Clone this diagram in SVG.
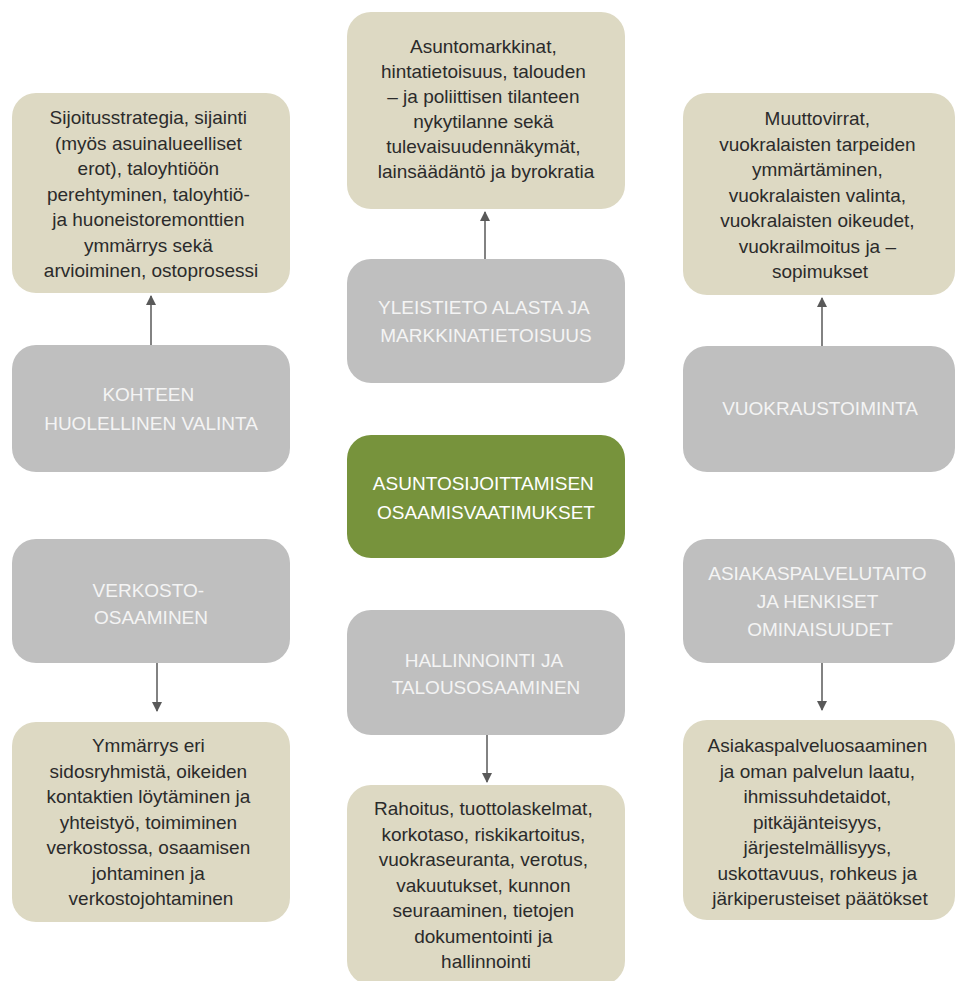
<svg xmlns="http://www.w3.org/2000/svg" width="955" height="981" viewBox="0 0 955 981">
<defs>
<style>
.tan{fill:#DDD9C3;}
.gray{fill:#BFBFBF;}
.green{fill:#77933C;}
.tt{font-family:"Liberation Sans",Arial,sans-serif;font-size:19px;fill:#2B2B2B;text-anchor:middle;}
.gt{font-family:"Liberation Sans",Arial,sans-serif;font-size:19px;fill:#F4F4F4;text-anchor:middle;}
.conn{stroke:#595959;stroke-width:1.5;fill:none;marker-end:url(#ah);}
</style>
<marker id="ah" markerWidth="10" markerHeight="10" refX="9" refY="5" orient="auto" markerUnits="userSpaceOnUse">
<path d="M0,0 L10,5 L0,10 Z" fill="#595959"/>
</marker>
</defs>
<rect width="955" height="981" fill="#FFFFFF"/>

<g id="connectors">
<line class="conn" x1="151" y1="345" x2="151" y2="296"/>
<line class="conn" x1="485" y1="259" x2="485" y2="212"/>
<line class="conn" x1="822" y1="346" x2="822" y2="298"/>
<line class="conn" x1="157" y1="663" x2="157" y2="711"/>
<line class="conn" x1="487" y1="735" x2="487" y2="782"/>
<line class="conn" x1="822" y1="663" x2="822" y2="710"/>
</g>

<g id="n-sijoitus">
<rect class="tan" x="12" y="93" width="278" height="200" rx="24"/>
<text class="tt">
<tspan x="151" y="124">Sijoitusstrategia, sijainti</tspan>
<tspan x="151" y="149.5">(myös asuinalueelliset</tspan>
<tspan x="151" y="175">erot), taloyhtiöön</tspan>
<tspan x="151" y="200.5">perehtyminen,  taloyhtiö-</tspan>
<tspan x="151" y="226">ja huoneistoremonttien</tspan>
<tspan x="151" y="251.5">ymmärrys sekä</tspan>
<tspan x="151" y="277">arvioiminen, ostoprosessi</tspan>
</text>
</g>

<g id="n-asunto">
<rect class="tan" x="347" y="12" width="278" height="197" rx="24"/>
<text class="tt">
<tspan x="486" y="53">Asuntomarkkinat,</tspan>
<tspan x="486" y="78">hintatietoisuus, talouden</tspan>
<tspan x="486" y="103">– ja poliittisen tilanteen</tspan>
<tspan x="486" y="128">nykytilanne sekä</tspan>
<tspan x="486" y="153">tulevaisuudennäkymät,</tspan>
<tspan x="486" y="178">lainsäädäntö ja byrokratia</tspan>
</text>
</g>

<g id="n-muutto">
<rect class="tan" x="683" y="93" width="272" height="202" rx="24"/>
<text class="tt">
<tspan x="820" y="125">Muuttovirrat,</tspan>
<tspan x="820" y="150.5">vuokralaisten tarpeiden</tspan>
<tspan x="820" y="176">ymmärtäminen,</tspan>
<tspan x="820" y="201.5">vuokralaisten valinta,</tspan>
<tspan x="820" y="227">vuokralaisten oikeudet,</tspan>
<tspan x="820" y="252.5">vuokrailmoitus ja –</tspan>
<tspan x="820" y="278">sopimukset</tspan>
</text>
</g>

<g id="n-kohteen">
<rect class="gray" x="12" y="345" width="278" height="127" rx="24"/>
<text class="gt">
<tspan x="151" y="401">KOHTEEN</tspan>
<tspan x="151" y="430">HUOLELLINEN VALINTA</tspan>
</text>
</g>

<g id="n-yleistieto">
<rect class="gray" x="347" y="259" width="278" height="124" rx="24"/>
<text class="gt">
<tspan x="486" y="314">YLEISTIETO ALASTA JA</tspan>
<tspan x="486" y="342">MARKKINATIETOISUUS</tspan>
</text>
</g>

<g id="n-vuokraus">
<rect class="gray" x="683" y="346" width="272" height="126" rx="24"/>
<text class="gt">
<tspan x="820" y="415">VUOKRAUSTOIMINTA</tspan>
</text>
</g>

<g id="n-center">
<rect class="green" x="347" y="435" width="278" height="123" rx="24"/>
<text class="gt" style="fill:#FFFFFF">
<tspan x="486" y="490">ASUNTOSIJOITTAMISEN</tspan>
<tspan x="486" y="519">OSAAMISVAATIMUKSET</tspan>
</text>
</g>

<g id="n-verkosto">
<rect class="gray" x="12" y="539" width="278" height="124" rx="24"/>
<text class="gt">
<tspan x="151" y="597">VERKOSTO-</tspan>
<tspan x="151" y="624">OSAAMINEN</tspan>
</text>
</g>

<g id="n-hallinnointi">
<rect class="gray" x="347" y="610" width="278" height="125" rx="24"/>
<text class="gt">
<tspan x="486" y="667">HALLINNOINTI JA</tspan>
<tspan x="486" y="694">TALOUSOSAAMINEN</tspan>
</text>
</g>

<g id="n-asiakas">
<rect class="gray" x="683" y="539" width="272" height="124" rx="24"/>
<text class="gt">
<tspan x="820" y="580">ASIAKASPALVELUTAITO</tspan>
<tspan x="820" y="608">JA HENKISET</tspan>
<tspan x="820" y="636">OMINAISUUDET</tspan>
</text>
</g>

<g id="n-ymmarrys">
<rect class="tan" x="12" y="722" width="278" height="200" rx="24"/>
<text class="tt">
<tspan x="151" y="752">Ymmärrys eri</tspan>
<tspan x="151" y="777.5">sidosryhmistä, oikeiden</tspan>
<tspan x="151" y="803">kontaktien löytäminen ja</tspan>
<tspan x="151" y="828.5">yhteistyö, toimiminen</tspan>
<tspan x="151" y="854">verkostossa, osaamisen</tspan>
<tspan x="151" y="879.5">johtaminen ja</tspan>
<tspan x="151" y="905">verkostojohtaminen</tspan>
</text>
</g>

<g id="n-rahoitus">
<rect class="tan" x="347" y="785" width="278" height="200" rx="24"/>
<text class="tt">
<tspan x="486" y="815">Rahoitus, tuottolaskelmat,</tspan>
<tspan x="486" y="840.5">korkotaso, riskikartoitus,</tspan>
<tspan x="486" y="866">vuokraseuranta, verotus,</tspan>
<tspan x="486" y="891.5">vakuutukset, kunnon</tspan>
<tspan x="486" y="917">seuraaminen, tietojen</tspan>
<tspan x="486" y="942.5">dokumentointi ja</tspan>
<tspan x="486" y="968">hallinnointi</tspan>
</text>
</g>

<g id="n-asiakaspalvelu">
<rect class="tan" x="683" y="720" width="272" height="200" rx="24"/>
<text class="tt">
<tspan x="820" y="752">Asiakaspalveluosaaminen</tspan>
<tspan x="820" y="777.5">ja oman palvelun laatu,</tspan>
<tspan x="820" y="803">ihmissuhdetaidot,</tspan>
<tspan x="820" y="828.5">pitkäjänteisyys,</tspan>
<tspan x="820" y="854">järjestelmällisyys,</tspan>
<tspan x="820" y="879.5">uskottavuus, rohkeus ja</tspan>
<tspan x="820" y="905">järkiperusteiset päätökset</tspan>
</text>
</g>
</svg>
